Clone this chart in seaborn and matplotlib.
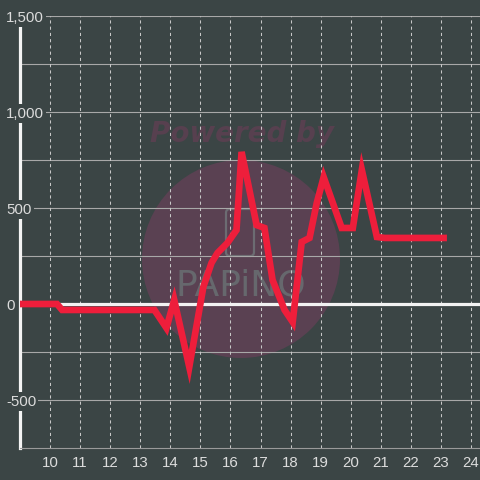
import numpy as np
import pandas as pd
import matplotlib
matplotlib.use("Agg")
import matplotlib.pyplot as plt
import seaborn as sns
from matplotlib.patches import Circle, FancyBboxPatch
from matplotlib.transforms import IdentityTransform

# ---- data ----
hours = [9.0, 10.23, 10.4, 13.47, 13.87, 14.13, 14.63, 15.1, 15.37, 15.57,
         15.9, 16.2, 16.37, 16.87, 17.13, 17.4, 17.8, 18.07, 18.37, 18.63,
         18.87, 19.1, 19.7, 20.07, 20.37, 20.87, 21.13, 23.2]
values = [0, 0, -31, -31, -125, 21, -328, 90, 214, 266,
          318, 385, 792, 411, 396, 125, -31, -94, 323, 344,
          526, 661, 396, 396, 698, 349, 344, 344]
x_ticks = list(range(10, 25))
y_ticks = [-500, 0, 500, 1000, 1500]
y_tick_labels = ["-500", "0", "500", "1,000", "1,500"]

df = pd.DataFrame({"hour": hours, "value": values})

BG = "#3b4545"
TXT = "#dcdcdc"
RED = "#ee1e3b"

sns.set_theme(style="dark")
plt.rcParams["font.family"] = ["Liberation Sans", "DejaVu Sans"]

fig = plt.figure(figsize=(4.8, 4.8), dpi=100, facecolor=BG)
ax = fig.add_axes([20 / 480, 32 / 480, 1 - 20 / 480, (448 - 16) / 480])
ax.set_facecolor(BG)

# watermark
ax.add_patch(Circle((241, 480 - 259), 99, transform=IdentityTransform(),
                    facecolor="#5a4152", edgecolor="none", zorder=0.3))
ax.add_patch(FancyBboxPatch((226, 480 - 256), 28, 47, boxstyle="round,pad=0,rounding_size=4",
                            transform=IdentityTransform(), facecolor="none",
                            edgecolor="#6c6c72", lw=1.6, zorder=0.35))
ax.text(242, 480 - 134, "Powered by", transform=IdentityTransform(), ha="center", va="center",
        fontsize=20, fontweight="bold", fontstyle="italic", family="DejaVu Sans",
        color="#57404f", zorder=0.4)
ax.text(241, 480 - 286, "PAPiNO", transform=IdentityTransform(), ha="center", va="center",
        fontsize=26, family="DejaVu Sans", fontweight="normal", color="#66686d", zorder=0.4)

# grid lines
for yv in np.arange(-500, 1501, 250):
    if yv != 0:
        ax.axhline(yv, color="#a8a8a8", lw=0.8, zorder=0.6)
for xv in x_ticks:
    ax.axvline(xv, color="#c8c8c8", lw=0.75, ls=(0, (3, 3)), zorder=0.6)
ax.axhline(0, color="#f2f2f2", lw=2.3, zorder=1.5)

sns.lineplot(data=df, x="hour", y="value", ax=ax, color=RED, lw=4.8,
             zorder=2.6, clip_on=False, solid_joinstyle="miter", solid_capstyle="butt")

ax.set_xlim(9, 24.3)
ax.set_ylim(-750, 1500)
ax.set_xlabel("")
ax.set_ylabel("")

ax.set_xticks(x_ticks)
ax.set_yticks(y_ticks, y_tick_labels)
ax.tick_params(axis="x", length=0, pad=5.5, labelsize=10.8, labelcolor=TXT)
ax.tick_params(axis="y", length=0, pad=10, labelsize=10.8, labelcolor=TXT)
for lab in ax.get_yticklabels():
    lab.set_horizontalalignment("left")
    lab.set_bbox(dict(facecolor=BG, edgecolor="none", pad=1.5))
ax.yaxis.set_zorder(2.8)
ax.grid(False)

for s in ["top", "right"]:
    ax.spines[s].set_visible(False)
ax.spines["left"].set_color("#f4f4f4")
ax.spines["left"].set_linewidth(2.3)
ax.spines["bottom"].set_color("#9a9a9a")
ax.spines["bottom"].set_linewidth(0.8)

fig.savefig("out.png", dpi=100, facecolor=BG)
